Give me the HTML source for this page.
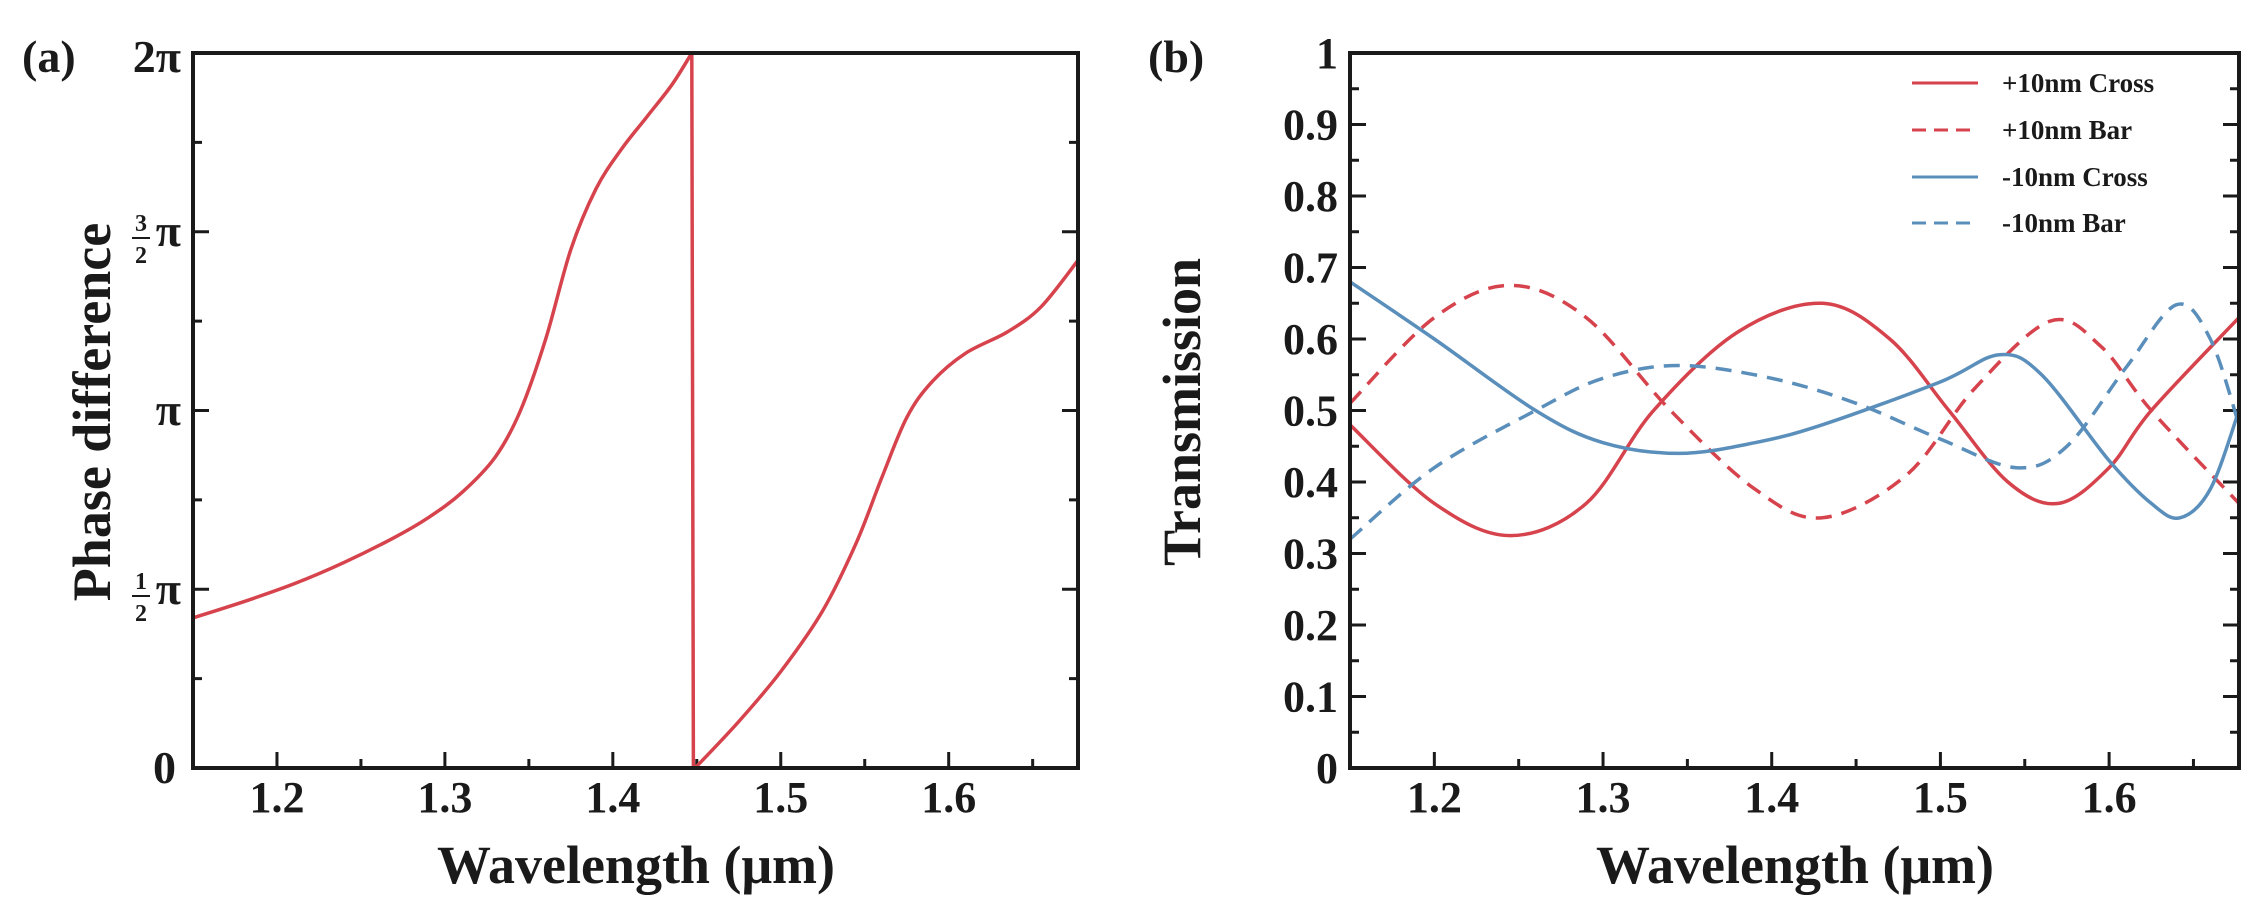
<!DOCTYPE html>
<html><head><meta charset="utf-8"><style>
html,body{margin:0;padding:0;background:#fff;}
svg{display:block;}
text{font-family:"Liberation Serif",serif;font-weight:bold;fill:#1a1a1a;}
</style></head><body>
<svg id="s" width="2268" height="922" viewBox="0 0 2268 922" xmlns="http://www.w3.org/2000/svg">
<text x="22" y="72" font-size="46">(a)</text>
<text x="181" y="72" font-size="46" text-anchor="end">2π</text>
<text x="181" y="246" font-size="46" text-anchor="end">π</text>
<text x="141" y="231" font-size="24" text-anchor="middle">3</text>
<line x1="132" y1="238" x2="150" y2="238" stroke="#1a1a1a" stroke-width="2"/>
<text x="141" y="263" font-size="24" text-anchor="middle">2</text>
<text x="181" y="425" font-size="46" text-anchor="end">π</text>
<text x="181" y="604" font-size="46" text-anchor="end">π</text>
<text x="141" y="589" font-size="24" text-anchor="middle">1</text>
<line x1="132" y1="596" x2="150" y2="596" stroke="#1a1a1a" stroke-width="2"/>
<text x="141" y="621" font-size="24" text-anchor="middle">2</text>
<text x="176" y="783" font-size="46" text-anchor="end">0</text>
<text transform="translate(110,412) rotate(-90)" font-size="54" text-anchor="middle">Phase difference</text>
<text x="636" y="883" font-size="54" text-anchor="middle">Wavelength (μm)</text>
<g id="ga"></g>
<text x="1148" y="72" font-size="46">(b)</text>
<text transform="translate(1200,412) rotate(-90)" font-size="54" text-anchor="middle">Transmission</text>
<text x="1795" y="883" font-size="54" text-anchor="middle">Wavelength (μm)</text>
<g id="gb"></g>
<line x1="1912" y1="83" x2="1978" y2="83" stroke="#d6434c" stroke-width="3"/>
<line x1="1912" y1="130" x2="1978" y2="130" stroke="#d6434c" stroke-width="3" stroke-dasharray="14,8"/>
<line x1="1912" y1="177" x2="1978" y2="177" stroke="#5b8fbb" stroke-width="3"/>
<line x1="1912" y1="223" x2="1978" y2="223" stroke="#5b8fbb" stroke-width="3" stroke-dasharray="14,8"/>
<text x="2002" y="92" font-size="27">+10nm Cross</text>
<text x="2002" y="139" font-size="27">+10nm Bar</text>
<text x="2002" y="186" font-size="27">-10nm Cross</text>
<text x="2002" y="232" font-size="27">-10nm Bar</text>
</svg>
<script>
var NS="http://www.w3.org/2000/svg";
function el(g,tag,attrs){var e=document.createElementNS(NS,tag);for(var k in attrs)e.setAttribute(k,attrs[k]);g.appendChild(e);return e;}
function cr(pts){
 var d="M"+pts[0][0].toFixed(1)+","+pts[0][1].toFixed(1);
 for(var i=0;i<pts.length-1;i++){
  var p0=pts[i-1]||pts[i],p1=pts[i],p2=pts[i+1],p3=pts[i+2]||pts[i+1];
  var c1=[p1[0]+(p2[0]-p0[0])/6,p1[1]+(p2[1]-p0[1])/6];
  var c2=[p2[0]-(p3[0]-p1[0])/6,p2[1]-(p3[1]-p1[1])/6];
  d+="C"+c1[0].toFixed(1)+","+c1[1].toFixed(1)+" "+c2[0].toFixed(1)+","+c2[1].toFixed(1)+" "+p2[0].toFixed(1)+","+p2[1].toFixed(1);
 }
 return d;
}
function panel(gid,L,R,T,B,ymax,yMajor,yMinor,series,ylabels){
 var g=document.getElementById(gid);
 var X=function(x){return L+(x-1.15)/(1.677-1.15)*(R-L);};
 var Y=function(y){return B-y/ymax*(B-T);};
 for(var k=0;k<=ymax/yMinor+0.001;k++){
  var v=k*yMinor, y=Y(v);
  var major=Math.abs(v/yMajor-Math.round(v/yMajor))<1e-6;
  var len=major?16:9;
  el(g,"line",{x1:L,y1:y,x2:L+len,y2:y,stroke:"#1a1a1a","stroke-width":3});
  el(g,"line",{x1:R,y1:y,x2:R-len,y2:y,stroke:"#1a1a1a","stroke-width":3});
 }
 for(var x=1.2;x<1.68;x+=0.05){
  var maj=Math.abs(x*10-Math.round(x*10))<1e-6;
  var px=X(x);
  el(g,"line",{x1:px,y1:B,x2:px,y2:B-(maj?16:9),stroke:"#1a1a1a","stroke-width":3});
  if(maj){var t=el(g,"text",{x:px,y:812,"font-size":44,"text-anchor":"middle"});t.textContent=x.toFixed(1);}
 }
 if(ylabels){for(var i=0;i<=10;i++){var v=i/10;var t=el(g,"text",{x:L-12,y:Y(v)+15,"font-size":44,"text-anchor":"end"});t.textContent=(i==0?"0":i==10?"1":v.toFixed(1));}}
 series.forEach(function(s){
  var pts=s.p.map(function(q){return [X(q[0]),Y(q[1])];});
  var a={d:cr(pts),fill:"none",stroke:s.c,"stroke-width":3.5,"stroke-linejoin":"round"};
  if(s.dash)a["stroke-dasharray"]="16,10";
  el(g,"path",a);
 });
 el(g,"rect",{x:L,y:T,width:R-L,height:B-T,fill:"none",stroke:"#1a1a1a","stroke-width":4});
}
var red="#d6434c",blue="#5b8fbb";
panel("ga",193,1078,53,768,2,0.5,0.25,[
 {c:red,p:[[1.15,0.42],[1.18,0.465],[1.21,0.515],[1.24,0.575],[1.27,0.645],[1.29,0.70],[1.31,0.77],[1.33,0.87],[1.345,1.0],[1.36,1.2],[1.375,1.45],[1.39,1.62],[1.405,1.73],[1.42,1.82],[1.435,1.91],[1.447,2.0]]},
 {c:red,p:[[1.447,2.0],[1.448,0.0]]},
 {c:red,p:[[1.449,0.0],[1.475,0.13],[1.5,0.27],[1.525,0.44],[1.545,0.63],[1.56,0.81],[1.575,0.98],[1.59,1.08],[1.61,1.16],[1.635,1.22],[1.655,1.29],[1.677,1.42]]}
],false);
panel("gb",1350,2239,53,768,1,0.1,0.05,[
 {c:red,p:[[1.15,0.48],[1.2,0.37],[1.245,0.325],[1.29,0.37],[1.33,0.5],[1.38,0.61],[1.43,0.65],[1.47,0.6],[1.505,0.5],[1.54,0.4],[1.57,0.37],[1.6,0.42],[1.625,0.5],[1.677,0.63]]},
 {c:red,dash:1,p:[[1.15,0.51],[1.2,0.63],[1.245,0.675],[1.29,0.63],[1.34,0.5],[1.39,0.39],[1.43,0.35],[1.48,0.41],[1.52,0.53],[1.565,0.625],[1.595,0.59],[1.625,0.5],[1.677,0.37]]},
 {c:blue,p:[[1.15,0.68],[1.2,0.6],[1.26,0.5],[1.3,0.455],[1.345,0.44],[1.39,0.455],[1.43,0.48],[1.5,0.54],[1.535,0.578],[1.56,0.55],[1.6,0.43],[1.625,0.37],[1.642,0.35],[1.66,0.39],[1.677,0.5]]},
 {c:blue,dash:1,p:[[1.15,0.32],[1.2,0.42],[1.26,0.5],[1.3,0.545],[1.345,0.563],[1.4,0.545],[1.45,0.51],[1.5,0.46],[1.545,0.42],[1.575,0.45],[1.61,0.56],[1.64,0.648],[1.66,0.6],[1.677,0.48]]}
],true);
</script>
</body></html>
